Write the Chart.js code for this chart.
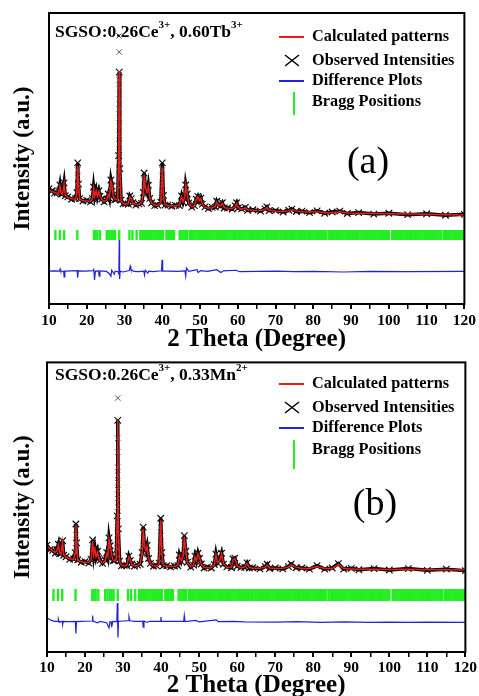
<!DOCTYPE html>
<html>
<head>
<meta charset="utf-8">
<title>Rietveld refinement SGSO</title>
<script src="https://cdn.jsdelivr.net/npm/chart.js@4.4.0/dist/chart.umd.min.js"></script>
<style>
  body { margin: 0; background: #fff; }
  canvas { display: block; }
</style>
</head>
<body>
<canvas id="chart_a" width="479" height="354"></canvas>
<canvas id="chart_b" width="479" height="342"></canvas>
<script>
// ---- panel (a): SGSO:0.26Ce3+, 0.60Tb3+ ----
const calcTheta_a = [
  10, 10.8, 11.5, 12.2, 12.6, 12.9, 13.2, 13.6, 14.0, 14.3,
  15.0, 16.0, 17.0, 17.4, 17.6, 17.8, 18.1, 19.0, 20.0, 21.0,
  21.5, 21.8, 22.1, 22.5, 22.8, 23.2, 23.5, 24.0, 24.6, 25.3,
  25.7, 26.0, 26.4, 26.7, 27.0, 27.4, 27.8, 28.2, 28.45, 28.6,
  28.75, 29.1, 29.6, 30.3, 31.0, 31.4, 31.8, 32.2, 33.0, 33.8,
  34.5, 35.0, 35.2, 35.5, 36.0, 36.3, 36.7, 37.2, 38.0, 38.8,
  39.6, 40.0, 40.3, 40.7, 41.5, 42.5, 43.5, 44.5, 45.1, 45.5,
  46.0, 46.2, 46.6, 47.0, 47.8, 48.5, 49.0, 49.4, 49.8, 50.2,
  50.6, 51.3, 52.2, 53.2, 54.0, 54.4, 54.8, 55.4, 55.9, 56.4,
  57.3, 58.5, 59.3, 59.7, 60.1, 61.0, 62.0, 62.6, 64, 66,
  67.2, 67.7, 68.3, 70, 72, 73.5, 74.3, 75.5, 77, 79,
  81, 83, 85, 87, 89, 92, 96, 100, 105, 110,
  115, 120
];
const calcInt_a = [
  39.2, 38.7, 38.3, 37.9, 38.4, 40.5, 38.0, 37.7, 41.3, 37.4,
  36.6, 36.2, 36.0, 38.0, 47.5, 41.5, 36.0, 35.6, 35.4, 35.3,
  36.0, 39.8, 37.0, 38.8, 37.0, 38.6, 37.2, 35.9, 35.3, 35.8,
  37.5, 36.5, 42.2, 40.8, 37.3, 36.0, 35.8, 36.3, 50.0, 80.0,
  46.0, 35.5, 34.6, 34.3, 34.5, 36.8, 36.4, 34.6, 34.2, 34.2,
  34.8, 38.0, 44.5, 40.0, 38.5, 40.5, 36.5, 34.6, 34.0, 33.8,
  34.8, 47.0, 37.0, 34.2, 33.8, 33.8, 33.7, 34.0, 36.8, 35.2,
  37.0, 40.8, 38.0, 34.5, 33.5, 33.6, 35.8, 36.8, 35.5, 36.2,
  34.5, 33.2, 33.0, 33.0, 33.5, 35.0, 34.0, 33.8, 34.6, 33.2,
  32.8, 32.8, 33.5, 34.6, 33.2, 32.5, 33.0, 32.4, 32.2, 32.1,
  32.5, 33.2, 32.3, 31.9, 31.8, 32.0, 32.4, 32.0, 31.7, 31.6,
  31.8, 31.4, 31.4, 31.7, 31.3, 31.2, 31.1, 31.0, 30.9, 30.8,
  30.7, 30.6
];
const obsInt_a = [
  39.6, 38.9, 38.1, 38.2, 38.6, 40.9, 37.8, 37.9, 41.6, 37.2,
  36.8, 36.0, 36.2, 38.3, 48.5, 41.2, 36.2, 35.4, 35.6, 35.1,
  36.3, 40.2, 36.8, 39.1, 36.8, 38.9, 37.0, 36.1, 35.1, 36.0,
  37.8, 36.3, 42.6, 40.5, 37.5, 35.8, 36.0, 36.6, 51.0, 79.7,
  46.5, 35.7, 34.4, 34.5, 34.3, 37.1, 36.2, 34.8, 34.0, 34.4,
  34.6, 38.3, 45.0, 40.3, 38.3, 40.8, 36.3, 34.8, 33.8, 34.0,
  35.0, 48.5, 37.3, 34.0, 34.0, 33.6, 33.9, 33.8, 37.1, 35.0,
  37.3, 40.9, 37.8, 34.7, 33.3, 33.8, 36.0, 37.0, 35.3, 36.4,
  34.3, 33.4, 32.8, 33.2, 33.3, 35.3, 34.2, 33.6, 34.8, 33.0,
  33.0, 32.6, 33.7, 34.8, 33.0, 32.7, 33.2, 32.2, 32.4, 31.9,
  32.7, 33.4, 32.1, 32.1, 31.6, 32.2, 32.6, 31.8, 31.9, 31.4,
  32.0, 31.2, 31.6, 31.9, 31.1, 31.4, 30.9, 31.2, 30.7, 31.0,
  30.5, 30.8
];
// observed points stacked on the flanks of the strong peaks (and the lone top ones)
const flankTheta_a = [
  28.55, 28.6, 28.6, 28.6, 28.6, 28.6, 28.6, 28.6, 28.6, 28.6,
  28.6, 28.6, 28.6, 28.6, 28.6,
  17.6, 17.6, 17.6, 17.6,
  40.0, 40.0, 40.0, 40.0, 40.0,
  35.2, 35.2, 35.2,
  26.4, 46.2
];
const flankInt_a = [
  92.1, 86.6, 77, 74, 70.5, 67, 64, 61, 58, 55,
  52, 49, 46, 43, 40,
  46, 43.5, 41, 38.5,
  46, 43.5, 41, 38.5, 36,
  42.5, 40, 37.5,
  39.5, 38.5
];
const diffTheta_a = [
  10, 11.5, 12.8, 12.95, 13.1, 13.9, 14.0, 14.2, 16, 17.45,
  17.6, 17.75, 19.5, 21.7, 21.85, 22.05, 22.3, 23.1, 23.3, 23.5,
  25.2, 26.0, 26.4, 26.6, 27.3, 27.5, 28.3, 28.5, 28.6, 28.7,
  28.85, 29.5, 31.3, 31.5, 31.7, 32.5, 33.8, 35.1, 35.3, 35.5,
  36.2, 36.4, 37.5, 39.8, 39.95, 40.1, 42, 44, 46.0, 46.2,
  46.4, 47.0, 49.2, 49.5, 50.2, 52, 54.4, 55.5, 56.2, 59.5,
  60.5, 65, 70, 75, 80, 88, 95, 105, 120
];
const diffInt_a = [
  11.3, 11.4, 11.3, 12.0, 11.3, 11.2, 9.3, 11.3, 11.4, 11.5,
  9.0, 11.4, 11.3, 11.5, 12.2, 8.3, 11.3, 11.4, 9.6, 11.4,
  11.2, 10.4, 9.5, 11.6, 10.2, 11.3, 11.1, 10.4, 22.0, 8.6,
  11.3, 11.0, 11.5, 13.0, 11.9, 11.2, 11.1, 11.3, 9.9, 11.6,
  10.6, 11.3, 11.1, 11.4, 15.2, 11.3, 11.3, 11.2, 11.4, 9.6,
  12.4, 11.2, 11.8, 10.8, 11.5, 11.2, 11.8, 10.8, 11.4, 11.6,
  11.1, 11.2, 11.3, 11.1, 11.2, 11.0, 11.2, 11.1, 11.2
];

// ---- panel (b): SGSO:0.26Ce3+, 0.33Mn2+ ----
const calcTheta_b = [
  10, 10.8, 11.5, 12.2, 12.6, 13.0, 13.3, 13.7, 14.1, 14.4,
  15.0, 16.0, 17.0, 17.4, 17.6, 17.8, 18.1, 19.0, 20.0, 21.0,
  21.6, 22.0, 22.3, 22.6, 22.9, 23.3, 23.6, 24.0, 24.6, 25.3,
  25.7, 26.0, 26.3, 26.6, 27.0, 27.4, 27.8, 28.2, 28.45, 28.6,
  28.75, 29.1, 29.6, 30.3, 31.0, 31.5, 31.9, 32.3, 33.0, 33.8,
  34.5, 35.0, 35.3, 35.6, 36.0, 36.3, 36.7, 37.2, 38.0, 38.8,
  39.5, 39.9, 40.2, 40.6, 41.5, 42.5, 43.5, 44.4, 44.8, 45.3,
  45.8, 46.1, 46.5, 46.9, 47.8, 48.5, 48.9, 49.3, 49.7, 50.1,
  50.6, 51.3, 52.2, 53.2, 54.0, 54.4, 54.8, 55.4, 55.9, 56.4,
  57.3, 58.5, 58.9, 59.4, 60.0, 61.0, 62.0, 62.6, 63.2, 64,
  66, 67.4, 67.9, 68.5, 70, 72, 73.5, 74.2, 75.5, 77,
  79, 81, 83, 85, 86.6, 88, 90, 92, 96, 100,
  105, 110, 115, 120
];
const calcInt_b = [
  36.5, 35.6, 34.9, 34.4, 35.0, 36.9, 34.2, 33.8, 38.0, 33.6,
  32.7, 32.2, 31.9, 34.0, 43.8, 38.0, 31.6, 31.2, 31.0, 30.9,
  31.8, 38.3, 33.5, 35.5, 33.0, 34.5, 32.5, 31.5, 30.8, 31.5,
  34.0, 33.0, 39.0, 37.0, 33.5, 31.8, 31.4, 32.0, 46.0, 80.0,
  42.0, 31.2, 30.0, 29.7, 30.0, 32.8, 31.8, 30.2, 29.8, 29.8,
  30.5, 34.0, 42.5, 37.0, 35.0, 36.5, 32.5, 30.4, 29.8, 29.6,
  30.5, 45.5, 34.0, 30.0, 29.6, 29.6, 29.5, 30.0, 33.2, 31.5,
  33.0, 39.8, 35.0, 30.8, 29.5, 29.8, 32.8, 31.5, 33.8, 32.5,
  30.2, 29.2, 29.1, 29.2, 30.0, 33.5, 31.0, 31.5, 33.8, 30.5,
  29.2, 29.3, 31.8, 32.2, 29.8, 29.0, 29.4, 30.5, 29.2, 28.9,
  28.9, 29.3, 30.0, 29.0, 28.8, 28.9, 29.3, 30.1, 29.3, 28.8,
  28.8, 29.5, 28.8, 28.8, 30.2, 28.8, 28.7, 28.6, 28.6, 28.5,
  28.6, 28.4, 28.4, 28.3
];
const obsInt_b = [
  36.9, 35.4, 35.1, 34.2, 35.3, 37.2, 34.0, 34.0, 38.4, 33.4,
  32.9, 32.0, 32.1, 34.3, 44.2, 37.7, 31.8, 31.0, 31.2, 30.7,
  32.0, 38.7, 33.3, 35.8, 32.8, 34.8, 32.3, 31.7, 30.6, 31.7,
  34.3, 32.8, 39.4, 36.7, 33.7, 31.6, 31.6, 32.3, 47.0, 80.0,
  42.5, 31.4, 29.8, 29.9, 29.8, 33.1, 31.6, 30.4, 29.6, 30.0,
  30.3, 34.3, 43.1, 36.8, 35.2, 36.8, 32.3, 30.6, 29.6, 29.8,
  30.7, 46.2, 34.3, 29.8, 29.8, 29.4, 29.7, 29.8, 33.5, 31.3,
  33.3, 40.2, 34.8, 31.0, 29.3, 30.0, 33.1, 31.3, 34.1, 32.3,
  30.4, 29.0, 29.3, 29.0, 30.2, 33.8, 30.8, 31.7, 34.1, 30.3,
  29.4, 29.1, 32.1, 32.4, 29.6, 29.2, 29.2, 30.8, 29.0, 29.1,
  28.7, 29.5, 30.3, 28.8, 29.0, 28.7, 29.5, 30.4, 29.1, 29.0,
  28.6, 29.8, 28.6, 29.0, 30.5, 28.6, 28.9, 28.4, 28.8, 28.3,
  28.8, 28.2, 28.6, 28.1
];
const flankTheta_b = [
  28.6, 28.6, 28.6, 28.6, 28.6, 28.6, 28.6, 28.6, 28.6, 28.6,
  28.6, 28.6, 28.6, 28.6, 28.6,
  17.6, 17.6, 17.6,
  35.3, 35.3, 35.3,
  39.9, 39.9, 39.9, 39.9, 39.9,
  46.1, 46.1,
  22.0, 26.3
];
const flankInt_b = [
  87.7, 73.8, 69, 63.8, 61, 58.5, 56, 53, 50, 47,
  44, 41, 38, 35.5, 33,
  40.5, 37.5, 34.5,
  39.5, 36.5, 33.5,
  43, 40, 37, 34, 31.5,
  37, 34,
  35.5, 36
];
const diffTheta_b = [
  10, 11, 12, 12.9, 13.0, 13.2, 14.0, 14.1, 14.3, 16,
  17.45, 17.6, 17.75, 19, 21.85, 22.0, 22.15, 23.3, 24, 25.7,
  26.3, 26.6, 26.9, 27.0, 27.3, 28.35, 28.5, 28.65, 28.8, 30,
  31.4, 31.55, 31.8, 33, 35.15, 35.3, 35.5, 36.3, 37, 39.8,
  39.95, 40.1, 43, 45.95, 46.1, 46.3, 49, 50, 54.5, 55,
  59, 62, 70, 76, 82, 88, 95, 100, 105, 110,
  120
];
const diffInt_b = [
  11.8, 11.0, 10.6, 10.6, 11.3, 10.3, 10.6, 9.5, 10.6, 10.5,
  10.6, 6.4, 10.5, 10.6, 10.7, 12.6, 10.6, 10.1, 10.6, 10.1,
  8.3, 10.5, 10.4, 8.6, 10.6, 10.5, 16.9, 5.0, 10.6, 10.7,
  10.8, 12.2, 10.8, 10.6, 10.6, 8.6, 10.7, 10.2, 10.6, 10.6,
  12.1, 10.6, 10.6, 10.6, 12.6, 10.5, 10.9, 10.4, 11.1, 10.5,
  10.6, 10.4, 10.3, 10.5, 10.2, 10.4, 10.2, 10.3, 10.2, 10.3,
  10.2
];

// Bragg reflections (same phase in both samples)
const braggPositions = [
  11.7, 12.9, 14.0, 17.5, 21.9, 22.3, 22.8, 23.5, 25.3, 25.9,
  26.5, 27.0, 27.5, 28.6, 31.3, 32.1, 33.2,
  34.2, 34.7, 35.2, 35.7, 36.2, 36.7, 37.2, 37.7, 38.2, 38.7,
  39.2, 39.7, 40.2, 41.1, 41.6, 42.1, 42.6, 43.1, 44.6, 45.1,
  45.6, 46.1, 46.6, 47.3, 47.8, 48.3, 48.8, 49.3, 49.8, 50.3,
  50.8, 51.3, 51.8, 52.3, 52.8, 53.3, 53.8, 54.3, 54.8, 55.3,
  55.8, 56.3, 56.8, 57.3, 57.8, 58.3,
  58.8, 59.3, 59.8, 60.3, 60.8, 61.3, 61.8, 62.3, 62.8, 63.3,
  63.8, 64.3, 64.8, 65.3, 65.8, 66.3, 66.8, 67.3, 67.8, 68.3,
  68.8, 69.3, 69.8, 70.3, 70.8, 71.3, 71.8, 72.3, 72.8, 73.3,
  73.8, 74.3, 74.8, 75.3, 75.8, 76.3, 76.8, 77.3, 77.8, 78.3,
  78.8, 79.3, 79.8, 80.3, 80.8, 81.3, 81.8, 82.3, 82.8, 83.3,
  84.0, 84.5, 85.0, 85.5, 86.0, 86.5, 87.0, 87.5, 88.0, 88.5,
  89.0, 89.5, 90.0, 90.5, 91.0, 91.5, 92.0, 92.5, 93.0, 93.5,
  94.0, 94.5, 95.0, 95.5, 96.0, 96.5, 97.0, 97.5, 98.0, 98.5,
  99.0, 99.5, 100.0, 100.9, 101.4, 101.9, 102.4, 102.9, 103.4, 103.9,
  104.4, 104.9, 105.4, 105.9, 106.4, 106.9, 107.4, 107.9, 108.4, 108.9,
  109.4, 109.9, 110.4, 110.9, 111.4, 111.9, 112.4, 112.9, 113.4, 113.9,
  114.6, 115.1, 115.6, 116.1, 116.6, 117.1, 117.6, 118.1, 118.6, 119.1,
  119.6, 120.0
];

const xTicks = [10, 15, 20, 25, 30, 35, 40, 45, 50, 55, 60, 65, 70, 75, 80, 85, 90, 95, 100, 105, 110, 115, 120];

const RED = "#ec1c1c";
const BLUE = "#2222d8";
const GREEN = "#22ee22";
const SERIF = "'Liberation Serif', 'Times New Roman', serif";

function to_points(xs, ys) {
  let pts = [];
  for (let i = 0; i < xs.length && i < ys.length; i++) {
    pts.push({ x: xs[i], y: ys[i] });
  }
  return pts;
}

// frame, sample name, legend and panel letter
const rietveldDecor = {
  id: "rietveldDecor",
  afterDraw(chart, args, o) {
    const ctx = chart.ctx;
    const a = chart.chartArea;
    ctx.save();
    ctx.strokeStyle = "#000";
    ctx.lineWidth = 2;
    ctx.strokeRect(a.left, a.top, a.right - a.left, a.bottom - a.top);

    // sample name with superscript charges
    ctx.fillStyle = "#000";
    ctx.textBaseline = "middle";
    ctx.textAlign = "left";
    let x = o.nameX;
    for (const part of o.name) {
      ctx.font = part.sup ? "bold 11px " + SERIF : "bold 17.5px " + SERIF;
      ctx.fillText(part.text, x, part.sup ? o.nameY - 7 : o.nameY);
      x += ctx.measureText(part.text).width;
    }

    // legend
    const r = o.rows;
    ctx.lineWidth = 2;
    ctx.strokeStyle = RED;
    ctx.beginPath(); ctx.moveTo(279, r[0]); ctx.lineTo(304, r[0]); ctx.stroke();
    ctx.strokeStyle = "#000";
    ctx.lineWidth = 1.5;
    ctx.beginPath();
    ctx.moveTo(285, r[1] - 6); ctx.lineTo(299, r[1] + 5);
    ctx.moveTo(299, r[1] - 6); ctx.lineTo(285, r[1] + 5);
    ctx.stroke();
    ctx.lineWidth = 2;
    ctx.strokeStyle = BLUE;
    ctx.beginPath(); ctx.moveTo(279, r[2]); ctx.lineTo(304, r[2]); ctx.stroke();
    ctx.strokeStyle = GREEN;
    ctx.beginPath(); ctx.moveTo(294, o.greenTop); ctx.lineTo(294, o.greenBottom); ctx.stroke();

    ctx.font = "bold 16.3px " + SERIF;
    const labels = ["Calculated patterns", "Observed Intensities", "Difference Plots", "Bragg Positions"];
    labels.forEach((t, i) => ctx.fillText(t, 312, r[i]));

    ctx.font = "38px " + SERIF;
    ctx.textAlign = "center";
    ctx.fillText(o.letter, o.letterX, o.letterY);
    ctx.restore();
  }
};

function rietveld_chart(id, d, frame, decor) {
  const ctx = document.getElementById(id);
  return new Chart(ctx, {
    type: "line",
    data: {
      datasets: [
        {
          label: "Calculated patterns",
          data: to_points(d.calcTheta, d.calcInt),
          borderColor: RED,
          borderWidth: 1.5,
          pointRadius: 0,
        },
        {
          label: "Observed Intensities (peak flanks)",
          data: to_points(d.flankTheta, d.flankInt),
          showLine: false,
          pointStyle: "crossRot",
          pointRadius: 3.8,
          pointBorderColor: "#555",
          pointBorderWidth: 1,
        },
        {
          label: "Observed Intensities",
          data: to_points(d.calcTheta, d.obsInt),
          borderColor: "#000",
          borderWidth: 3.5,
          pointStyle: "crossRot",
          pointRadius: 4.6,
          pointBorderColor: "#111",
          pointBorderWidth: 1.2,
        },
        {
          label: "Difference Plots",
          data: to_points(d.diffTheta, d.diffInt),
          borderColor: BLUE,
          borderWidth: 1.2,
          pointRadius: 0,
        },
        {
          label: "Bragg Positions",
          data: braggPositions.map((t) => ({ x: t, y: frame.braggLevel })),
          showLine: false,
          pointStyle: "line",
          pointRotation: 90,
          pointRadius: frame.braggHalf,
          pointBorderColor: GREEN,
          pointBorderWidth: 2.4,
        },
      ],
    },
    options: {
      responsive: false,
      animation: false,
      events: [],
      layout: { padding: { top: frame.top, right: frame.right, left: 0, bottom: 0 } },
      plugins: {
        legend: { display: false },
        tooltip: { enabled: false },
        rietveldDecor: decor,
      },
      scales: {
        x: {
          type: "linear",
          min: 10,
          max: 120,
          afterBuildTicks: (s) => {
            s.ticks = xTicks.map((v) => ({ value: v }));
          },
          ticks: {
            autoSkip: false,
            maxRotation: 0,
            padding: frame.tickPad,
            color: "#000",
            font: { family: SERIF, size: 15.5, weight: "bold" },
            callback: (v) => (v % 10 === 0 ? v : ""),
          },
          grid: {
            drawOnChartArea: false,
            drawTicks: true,
            tickLength: 5,
            color: "#000",
            lineWidth: (c) => (c.tick && c.tick.value % 10 === 0 ? 2 : 1.5),
          },
          border: { display: false },
          title: {
            display: true,
            text: "2 Theta (Degree)",
            color: "#000",
            font: { family: SERIF, size: 25, weight: "bold", lineHeight: 1 },
            padding: { top: 0, bottom: frame.titlePad },
          },
          afterFit: (s) => { s.height = frame.axisHeight; },
        },
        y: {
          min: 0,
          max: 100,
          ticks: { display: false },
          grid: { display: false },
          border: { display: false },
          title: {
            display: true,
            text: "Intensity (a.u.)",
            color: "#000",
            font: { family: SERIF, size: 23, weight: "bold", lineHeight: 1 },
            padding: { top: 11.5, bottom: 0 },
          },
          afterFit: (s) => { s.width = frame.left; },
        },
      },
    },
    plugins: [rietveldDecor],
  });
}

rietveld_chart(
  "chart_a",
  { calcTheta: calcTheta_a, calcInt: calcInt_a, obsInt: obsInt_a,
    flankTheta: flankTheta_a, flankInt: flankInt_a,
    diffTheta: diffTheta_a, diffInt: diffInt_a },
  { top: 13, right: 14, left: 49, axisHeight: 50, tickPad: 3, titlePad: 1.5, braggLevel: 23.7, braggHalf: 5 },
  { name: [{ text: "SGSO:0.26Ce" }, { text: "3+", sup: true }, { text: ", 0.60Tb" }, { text: "3+", sup: true }],
    nameX: 55, nameY: 32, rows: [37, 61, 81, 102], greenTop: 92, greenBottom: 115,
    letter: "(a)", letterX: 368, letterY: 163 }
);

rietveld_chart(
  "chart_b",
  { calcTheta: calcTheta_b, calcInt: calcInt_b, obsInt: obsInt_b,
    flankTheta: flankTheta_b, flankInt: flankInt_b,
    diffTheta: diffTheta_b, diffInt: diffInt_b },
  { top: 8, right: 13, left: 47, axisHeight: 44, tickPad: 2, titlePad: -2.5, braggLevel: 19.7, braggHalf: 6 },
  { name: [{ text: "SGSO:0.26Ce" }, { text: "3+", sup: true }, { text: ", 0.33Mn" }, { text: "2+", sup: true }],
    nameX: 55, nameY: 21, rows: [30, 54, 74, 96], greenTop: 86, greenBottom: 115,
    letter: "(b)", letterX: 375, letterY: 151 }
);
</script>
</body>
</html>
